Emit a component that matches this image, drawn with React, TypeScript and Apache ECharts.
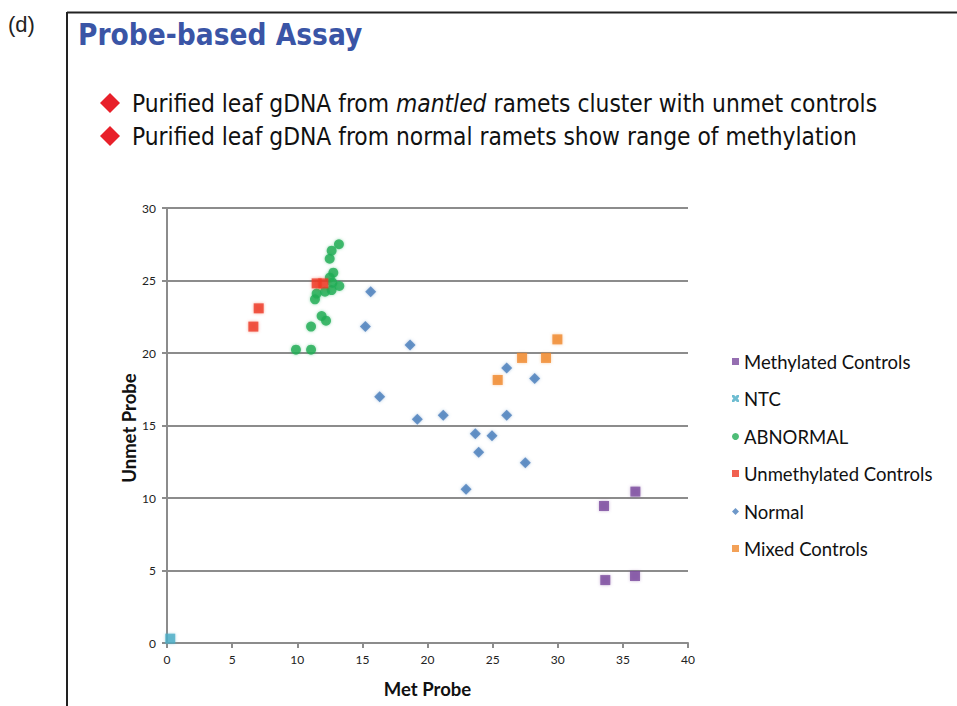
import React, { useEffect, useRef } from "react";
import * as echarts from "echarts";

const seriesNames = [
  "Methylated Controls",
  "NTC",
  "ABNORMAL",
  "Unmethylated Controls",
  "Normal",
  "Mixed Controls",
];

const methylated: number[][] = [
  [33.55, 9.45],
  [35.96, 10.44],
  [33.65, 4.34],
  [35.93, 4.62],
];
const ntc: number[][] = [[0.25, 0.3]];
const abnormal: number[][] = [
  [13.2, 27.5],
  [12.64, 27.06],
  [12.49, 26.5],
  [12.77, 25.54],
  [12.5, 25.2],
  [12.7, 24.85],
  [13.23, 24.62],
  [12.64, 24.34],
  [12.13, 24.23],
  [11.49, 24.1],
  [11.36, 23.7],
  [11.87, 22.55],
  [12.21, 22.23],
  [11.06, 21.82],
  [9.9, 20.23],
  [11.06, 20.23],
];
const unmethylated: number[][] = [
  [11.49, 24.8],
  [12.0, 24.8],
  [7.04, 23.08],
  [6.63, 21.82],
];
const normal: number[][] = [
  [15.64, 24.23],
  [15.23, 21.82],
  [18.66, 20.55],
  [16.33, 16.99],
  [19.22, 15.43],
  [21.21, 15.7],
  [26.08, 15.7],
  [26.08, 18.97],
  [28.23, 18.25],
  [23.67, 14.43],
  [24.95, 14.3],
  [23.93, 13.15],
  [27.51, 12.43],
  [22.96, 10.6],
];
const mixed: number[][] = [
  [29.97, 20.94],
  [27.26, 19.66],
  [29.1, 19.66],
  [25.39, 18.14],
];

const titleText = "Probe-based Assay";
const bullet1a = "Purified leaf gDNA from ";
const bullet1b = "mantled";
const bullet1c = " ramets cluster with unmet controls";
const bullet2 = "Purified leaf gDNA from normal ramets show range of methylation";
const xTitle = "Met Probe";
const yTitle = "Unmet Probe";

const colors = ["#7b4a9e", "#4bacc6", "#22ad55", "#ee3a24", "#4a7ebb", "#f0892e"];
const symbols = ["rect", "rect", "circle", "rect", "diamond", "rect"];
const sizes = [10, 10, 10, 10, 11, 10];
const xPath =
  "path://M0,0 L3,0 L5,2 L7,0 L10,0 L10,3 L8,5 L10,7 L10,10 L7,10 L5,8 L3,10 L0,10 L0,7 L2,5 L0,3 Z";

export default function App() {
  const ref = useRef<HTMLDivElement>(null);
  useEffect(() => {
    if (!ref.current) return;
    const chart = echarts.init(ref.current, null, { renderer: "svg" });
    const dataSets = [methylated, ntc, abnormal, unmethylated, normal, mixed];
    const legendTops = [362, 399, 437, 474, 512, 549];
    const axisGray = "#8c8c8c";
    const labelFont = "Lato, 'Open Sans', sans-serif";
    const bodyFont = "'DejaVu Sans Condensed', 'DejaVu Sans', sans-serif";
    chart.setOption({
      animation: false,
      backgroundColor: "#ffffff",
      grid: { left: 167, right: 957 - 688, top: 208, bottom: 706 - 643, containLabel: false },
      xAxis: {
        type: "value",
        min: 0,
        max: 40,
        interval: 5,
        name: xTitle,
        nameLocation: "middle",
        nameGap: 36,
        nameTextStyle: { fontFamily: labelFont, fontWeight: "bold", fontSize: 18.5, color: "#111" },
        axisLine: { show: true, lineStyle: { color: axisGray, width: 2 } },
        axisTick: { show: true, length: 5, lineStyle: { color: axisGray, width: 2 } },
        axisLabel: { fontFamily: labelFont, fontSize: 12, color: "#222", margin: 10 },
        splitLine: { show: false },
      },
      yAxis: {
        type: "value",
        min: 0,
        max: 30,
        interval: 5,
        axisLine: { show: true, lineStyle: { color: axisGray, width: 2 } },
        axisTick: { show: true, length: 5, lineStyle: { color: axisGray, width: 2 } },
        axisLabel: { fontFamily: labelFont, fontSize: 12, color: "#222", margin: 11 },
        splitLine: { show: true, lineStyle: { color: axisGray, width: 2 } },
      },
      legend: seriesNames.map((n, i) => ({
        data: [i === 1 ? { name: n, icon: xPath } : n],
        orient: "vertical",
        left: 727,
        top: legendTops[i] - 15,
        itemWidth: 7,
        itemHeight: 7,
        itemGap: 0,
        selectedMode: false,
        textStyle: { fontFamily: labelFont, fontSize: 18.5, color: "#111" },
      })),
      series: seriesNames.map((n, i) => ({
        name: n,
        type: "scatter",
        data: dataSets[i],
        symbol: symbols[i],
        symbolSize: sizes[i],
        itemStyle: { color: colors[i], shadowBlur: 3, shadowColor: colors[i] + "88" },
        emphasis: { disabled: true },
      })),
      graphic: [
        {
          type: "text",
          left: 8,
          top: 13,
          style: { text: "(d)", fontFamily: "'Liberation Sans', Arial, sans-serif", fontSize: 22, fill: "#222" },
        },
        { type: "line", shape: { x1: 67, y1: 12.5, x2: 957, y2: 12.5 }, style: { stroke: "#222", lineWidth: 2 } },
        { type: "line", shape: { x1: 67, y1: 12, x2: 67, y2: 706 }, style: { stroke: "#222", lineWidth: 2 } },
        {
          type: "text",
          x: 129,
          y: 428,
          rotation: Math.PI / 2,
          style: {
            text: yTitle,
            fontFamily: labelFont,
            fontWeight: "bold",
            fontSize: 18.5,
            fill: "#111",
            align: "center",
            verticalAlign: "middle",
          },
        },
        {
          type: "text",
          x: 78,
          y: 35,
          style: {
            text: titleText,
            fontFamily: "'DejaVu Sans Condensed', 'DejaVu Sans', sans-serif",
            fontWeight: "bold",
            fontSize: 29.5,
            fill: "#3a55a6",
            verticalAlign: "middle",
          },
        },
        {
          type: "polygon",
          shape: { points: [[110, 93], [120, 103], [110, 113], [100, 103]] },
          style: { fill: "#e8202a" },
        },
        {
          type: "polygon",
          shape: { points: [[110, 126], [120, 136], [110, 146], [100, 136]] },
          style: { fill: "#e8202a" },
        },
        {
          type: "text",
          x: 132,
          y: 103,
          style: {
            text: `{n|${bullet1a}}{i|${bullet1b}}{n|${bullet1c}}`,
            verticalAlign: "middle",
            rich: {
              n: { fontFamily: bodyFont, fontSize: 24.3, fill: "#111" },
              i: { fontFamily: bodyFont, fontSize: 24.3, fontStyle: "italic", fill: "#111" },
            },
          },
        },
        {
          type: "text",
          x: 132,
          y: 136,
          style: {
            text: bullet2,
            fontFamily: bodyFont,
            fontSize: 24.3,
            fill: "#111",
            verticalAlign: "middle",
          },
        },
      ],
    });
    return () => chart.dispose();
  }, []);
  return (
    <div
      ref={ref}
      style={{ position: "absolute", left: 0, top: 0, width: 957, height: 706, background: "#fff" }}
    />
  );
}
